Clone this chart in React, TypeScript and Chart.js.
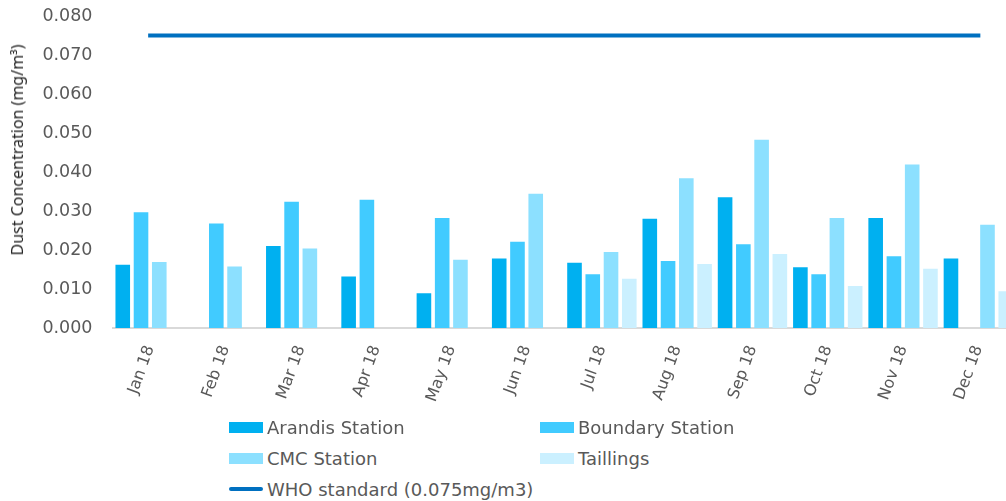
import React, { useEffect, useRef } from "react";
import { Chart, registerables } from "chart.js";

Chart.register(...registerables);

const months = ["Jan 18", "Feb 18", "Mar 18", "Apr 18", "May 18", "Jun 18", "Jul 18", "Aug 18", "Sep 18", "Oct 18", "Nov 18", "Dec 18"];
const arandis = [0.0162, null, 0.021, 0.0132, 0.0089, 0.0178, 0.0167, 0.028, 0.0335, 0.0156, 0.0282, 0.0178];
const boundary = [0.0297, 0.0268, 0.0324, 0.0329, 0.0282, 0.0221, 0.0138, 0.0172, 0.0215, 0.0138, 0.0184, null];
const cmc = [0.0169, 0.0158, 0.0204, null, 0.0175, 0.0344, 0.0195, 0.0384, 0.0483, 0.0282, 0.0419, 0.0265];
const tailings = [null, null, null, null, null, null, 0.0126, 0.0164, 0.019, 0.0108, 0.0152, 0.0094];
const whoStandard = [0.075, 0.075, 0.075, 0.075, 0.075, 0.075, 0.075, 0.075, 0.075, 0.075, 0.075, 0.075];

const seriesNames = ["Arandis Station", "Boundary Station", "CMC Station", "Taillings"];
const seriesColors = ["#00B0F0", "#41CBFF", "#8CE0FF", "#CBF0FF"];
const whoName = "WHO standard (0.075mg/m3)";
const whoColor = "#0070C0";
const yAxisTitle = "Dust Concentration (mg/m³)";

export default function App() {
  const ref = useRef<HTMLCanvasElement>(null);

  useEffect(() => {
    if (!ref.current) return;
    const values = [arandis, boundary, cmc, tailings];
    const chart = new Chart(ref.current, {
      type: "bar",
      data: {
        labels: months,
        datasets: [
          {
            type: "line",
            label: whoName,
            data: whoStandard,
            borderColor: whoColor,
            backgroundColor: whoColor,
            borderWidth: 4,
            borderCapStyle: "square",
            pointRadius: 0,
            order: 0,
          } as any,
          ...values.map((v, i) => ({
            type: "bar",
            label: seriesNames[i],
            data: v,
            backgroundColor: seriesColors[i],
            categoryPercentage: 0.97,
            barPercentage: 0.8,
            order: 1,
          })),
        ],
      },
      options: {
        animation: false,
        responsive: true,
        maintainAspectRatio: false,
        layout: { padding: { top: 16, right: 14, left: 0, bottom: 0 } },
        plugins: { legend: { display: false }, tooltip: { enabled: false } },
        scales: {
          x: {
            grid: { display: false, drawTicks: false },
            border: { display: true, color: "#D9D9D9", width: 2 },
            ticks: {
              color: "#595959",
              font: { family: "DejaVu Sans", size: 16 },
              minRotation: 70,
              maxRotation: 70,
              padding: 15,
              autoSkip: false,
            },
            afterFit: (s: any) => {
              s.height = 92;
            },
          },
          y: {
            min: 0,
            max: 0.08,
            grid: { display: false, drawTicks: false },
            border: { display: false },
            ticks: {
              stepSize: 0.01,
              color: "#595959",
              font: { family: "DejaVu Sans", size: 17.5 },
              padding: 20,
              callback: (v: any) => Number(v).toFixed(3),
            },
            afterFit: (s: any) => {
              s.width = 112.5;
              s.paddingTop = 0;
              s.paddingBottom = 0;
            },
          },
        },
      },
    });
    return () => chart.destroy();
  }, []);

  const legendItems = [
    ...seriesNames.map((n, i) => ({ name: n, color: seriesColors[i], line: false })),
    { name: whoName, color: whoColor, line: true },
  ];
  const colX = [229, 540];
  const rowY = [427, 458, 489];

  return (
    <div style={{ position: "fixed", left: 0, top: 0, width: 1006, height: 501, overflow: "hidden", background: "#fff" }}>
      <div style={{ position: "absolute", left: 0, top: 0, width: 1030, height: 420 }}>
        <canvas ref={ref} />
      </div>
      <div
        style={{
          position: "absolute",
          left: 17,
          top: 150,
          transform: "translate(-50%, -50%) rotate(-90deg)",
          whiteSpace: "nowrap",
          fontFamily: "'Noto Sans'",
          fontWeight: 400,
          fontSize: 16,
          color: "#262626",
        }}
      >
        {yAxisTitle}
      </div>
      {legendItems.map((it, i) => {
        const x = colX[i % 2];
        const y = rowY[Math.floor(i / 2)];
        return (
          <div key={it.name} style={{ position: "absolute", left: x, top: y - 12, height: 24, display: "flex", alignItems: "center", whiteSpace: "nowrap" }}>
            <div
              style={{
                width: 34,
                height: it.line ? 4 : 11,
                background: it.color,
                borderRadius: it.line ? 2 : 0,
                marginRight: 4,
              }}
            />
            <span style={{ fontFamily: "'DejaVu Sans'", fontSize: 18, color: "#595959" }}>{it.name}</span>
          </div>
        );
      })}
    </div>
  );
}
